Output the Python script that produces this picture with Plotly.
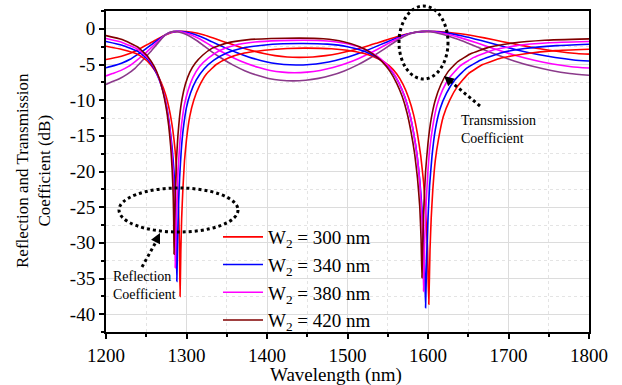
import plotly.graph_objects as go

# ---------------- data ----------------
labels = ["W<sub>2</sub> = 300 nm", "W<sub>2</sub> = 340 nm",
          "W<sub>2</sub> = 380 nm", "W<sub>2</sub> = 420 nm"]

# Reflection coefficients (dB)
r300_x = [1200, 1220, 1240, 1252, 1261, 1268, 1274, 1279, 1283, 1286, 1288.5, 1290.2, 1291.2, 1292,
          1293, 1294, 1295.5, 1297.5, 1300, 1304, 1309, 1316, 1325, 1337, 1352, 1372, 1397, 1425, 1450,
          1480, 1505, 1525, 1540, 1552, 1561, 1569, 1576, 1582, 1587, 1591, 1594.5, 1597, 1599.2, 1601,
          1602.5, 1604, 1606, 1609, 1613, 1619, 1627, 1637, 1650, 1668, 1691, 1721, 1758, 1800]
r300_y = [-2.45, -2.9, -3.6, -4.6, -5.9, -7.4, -9.2, -11.5, -14.2, -17.2, -21, -25.5, -30, -37.5,
          -31, -26.5, -22.5, -18.5, -15.5, -12.3, -10, -8, -6.3, -5.0, -4.1, -3.4, -3.0, -2.75, -2.7,
          -2.8, -3.1, -3.6, -4.3, -5.2, -6.3, -7.8, -9.7, -12, -14.8, -17.8, -21.5, -25.5, -30.5, -38.6,
          -31, -26.5, -22.5, -18.5, -15.5, -12.3, -10, -8, -6.3, -5.0, -4.1, -3.5, -3.05, -2.86]

r340_x = [1200, 1220, 1240, 1252, 1260, 1266, 1271, 1275.5, 1279, 1282, 1284.5, 1286.2, 1287.2, 1288,
          1289, 1290, 1291.5, 1293.5, 1296, 1300, 1305, 1312, 1322, 1334, 1350, 1370, 1395, 1420, 1445,
          1475, 1500, 1520, 1535, 1547, 1556, 1564, 1571, 1577, 1582, 1586.5, 1590, 1593, 1595.3, 1597,
          1598.5, 1600, 1602, 1605, 1609, 1615, 1623, 1633, 1647, 1665, 1690, 1720, 1760, 1800]
r340_y = [-1.78, -2.3, -3.2, -4.3, -5.6, -7.1, -8.8, -11, -13.5, -16.5, -20, -24.5, -29, -35.4,
          -29.5, -25, -20.8, -17, -14, -11, -9, -7.2, -5.6, -4.4, -3.4, -2.7, -2.3, -2.1, -2.05,
          -2.15, -2.5, -3.1, -3.9, -4.9, -6.1, -7.6, -9.5, -11.8, -14.5, -17.8, -21.5, -26, -31, -39.1,
          -31.5, -26.5, -22, -17.8, -14.2, -11.2, -9, -7.2, -5.6, -4.4, -3.4, -2.75, -2.35, -2.16]

r380_x = [1200, 1220, 1240, 1252, 1260, 1266, 1271, 1275, 1278.5, 1281, 1283.2, 1284.7, 1285.5, 1286,
          1287, 1288, 1289.5, 1291.5, 1294, 1297.5, 1302, 1308, 1316, 1327, 1342, 1360, 1385, 1415, 1445,
          1475, 1500, 1520, 1535, 1547, 1556, 1564, 1571, 1577, 1582, 1586.5, 1589.8, 1592.2, 1593.6, 1594.5,
          1595.8, 1597.3, 1599.3, 1602, 1606, 1611, 1618, 1627, 1640, 1657, 1680, 1710, 1750, 1800]
r380_y = [-1.36, -1.9, -2.9, -4.1, -5.4, -7.0, -8.8, -10.9, -13.4, -16.2, -19.8, -24, -28, -33.5,
          -28, -24, -20, -16.3, -13.3, -10.6, -8.6, -6.8, -5.3, -4.1, -3.0, -2.3, -1.85, -1.65, -1.6,
          -1.7, -2.1, -2.8, -3.7, -4.8, -6.0, -7.6, -9.5, -11.8, -14.5, -17.8, -21.5, -26, -30.5, -36.8,
          -30, -25.5, -21, -17, -13.6, -10.8, -8.6, -6.8, -5.2, -4.0, -3.0, -2.35, -1.95, -1.78]

r420_x = [1200, 1220, 1240, 1252, 1260, 1266, 1270.5, 1274.5, 1277.8, 1280.3, 1282.2, 1283.5, 1284.1, 1284.5,
          1285.3, 1286.2, 1287.5, 1289.3, 1291.5, 1294.5, 1298.5, 1304, 1311, 1320, 1332, 1350, 1375, 1405, 1440,
          1470, 1495, 1515, 1530, 1543, 1553, 1561, 1568, 1574, 1579, 1583.5, 1587, 1589.8, 1591.4, 1592.5,
          1593.7, 1595, 1597, 1600, 1604, 1609, 1616, 1625, 1637, 1653, 1675, 1705, 1745, 1800]
r420_y = [-0.95, -1.5, -2.6, -3.9, -5.3, -6.9, -8.7, -10.9, -13.5, -16.4, -19.8, -23.5, -27, -31.6,
          -26.5, -22.5, -18.5, -15, -12.2, -9.8, -7.8, -6.1, -4.8, -3.7, -2.7, -2.0, -1.55, -1.35, -1.3,
          -1.4, -1.8, -2.5, -3.4, -4.6, -6.0, -7.6, -9.5, -11.8, -14.5, -17.6, -21, -25, -29.5, -34.9,
          -29, -24.5, -20, -16, -12.6, -10, -7.8, -6.0, -4.6, -3.5, -2.6, -2.0, -1.6, -1.41]

# Transmission coefficients (dB)
t300_x = [1200, 1214, 1224, 1234, 1243, 1253, 1263, 1273, 1282, 1292, 1307, 1322, 1336, 1351, 1366,
          1381, 1396, 1410, 1425, 1440, 1457, 1473, 1489, 1505, 1521, 1537, 1553, 1569, 1585, 1601,
          1624, 1647, 1670, 1693, 1716, 1739, 1762, 1785, 1800]
t300_y = [-4.30, -3.99, -3.68, -3.25, -2.72, -2.11, -1.49, -0.91, -0.50, -0.35, -0.49, -0.87, -1.40, -1.98, -2.55,
          -3.05, -3.46, -3.76, -3.95, -4.00, -3.95, -3.76, -3.46, -3.05, -2.55, -1.98, -1.40, -0.87, -0.49, -0.35,
          -0.47, -0.80, -1.27, -1.80, -2.32, -2.79, -3.17, -3.45, -3.55]

t340_x = [1200, 1210, 1220, 1230, 1239, 1249, 1259, 1269, 1278, 1288, 1303, 1318, 1332, 1347, 1362,
          1377, 1392, 1406, 1421, 1436, 1453, 1469, 1485, 1501, 1517, 1533, 1549, 1565, 1581, 1597,
          1620, 1643, 1666, 1689, 1712, 1735, 1758, 1781, 1800]
t340_y = [-5.45, -5.16, -4.79, -4.27, -3.61, -2.84, -2.00, -1.19, -0.58, -0.35, -0.55, -1.10, -1.83, -2.60, -3.32,
          -3.94, -4.43, -4.79, -5.00, -5.07, -5.00, -4.79, -4.43, -3.94, -3.32, -2.60, -1.83, -1.10, -0.55, -0.35,
          -0.53, -1.00, -1.64, -2.34, -3.00, -3.57, -4.03, -4.36, -4.50]

t380_x = [1200, 1208, 1218, 1228, 1237, 1247, 1257, 1267, 1276, 1286, 1301, 1316, 1330, 1345, 1360,
          1375, 1390, 1404, 1419, 1434, 1450, 1466, 1482, 1498, 1514, 1530, 1546, 1562, 1578, 1594,
          1617, 1640, 1663, 1686, 1709, 1732, 1755, 1778, 1800]
t380_y = [-6.60, -6.27, -5.86, -5.27, -4.52, -3.60, -2.56, -1.51, -0.68, -0.35, -0.64, -1.38, -2.33, -3.29, -4.15,
          -4.87, -5.43, -5.83, -6.07, -6.15, -6.07, -5.83, -5.43, -4.87, -4.15, -3.29, -2.33, -1.38, -0.64, -0.35,
          -0.59, -1.23, -2.07, -2.94, -3.74, -4.41, -4.93, -5.31, -5.50]

t420_x = [1200, 1206, 1216, 1226, 1236, 1245, 1255, 1265, 1274, 1284, 1299, 1314, 1328, 1343, 1358,
          1373, 1388, 1402, 1417, 1432, 1448, 1464, 1480, 1496, 1512, 1528, 1544, 1560, 1576, 1592,
          1615, 1638, 1661, 1684, 1707, 1730, 1753, 1776, 1800]
t420_y = [-7.80, -7.48, -7.03, -6.38, -5.53, -4.48, -3.25, -1.93, -0.81, -0.35, -0.75, -1.74, -2.94, -4.09, -5.09,
          -5.90, -6.52, -6.95, -7.21, -7.30, -7.21, -6.95, -6.52, -5.90, -5.09, -4.09, -2.94, -1.74, -0.75, -0.35,
          -0.68, -1.51, -2.55, -3.58, -4.50, -5.26, -5.84, -6.25, -6.50]

x_ticks = [1200, 1300, 1400, 1500, 1600, 1700, 1800]
y_ticks = [0, -5, -10, -15, -20, -25, -30, -35, -40]

# ---------------- styling ----------------
FONT = "Liberation Serif"
r_colors = ["#ff0000", "#0000ff", "#ff00ff", "#800000"]
t_colors = ["#ff0000", "#0000ff", "#ff00ff", "#8b3a8b"]

fig = go.Figure()
refl = [(r300_x, r300_y), (r340_x, r340_y), (r380_x, r380_y), (r420_x, r420_y)]
trans = [(t300_x, t300_y), (t340_x, t340_y), (t380_x, t380_y), (t420_x, t420_y)]

for i, (tx, ty) in enumerate(trans):
    fig.add_trace(go.Scatter(x=tx, y=ty, mode="lines", showlegend=False,
                             line=dict(color=t_colors[i], width=1.6, shape="spline", smoothing=0.6)))
for i, (rx, ry) in enumerate(refl):
    fig.add_trace(go.Scatter(x=rx, y=ry, mode="lines", name=labels[i],
                             line=dict(color=r_colors[i], width=1.6, shape="spline", smoothing=0.4)))

W, H = 622, 385
L, R, T, B = 106, 33, 11, 53
pw, ph = W - L - R, H - T - B


def px(xp):
    return (xp - L) / pw


def py(yp):
    return (H - B - yp) / ph


axis_common = dict(showline=True, linecolor="black", linewidth=2, mirror=True,
                   ticks="outside", ticklen=5, tickwidth=1.5, tickcolor="black",
                   showgrid=True, gridcolor="#dcdcdc", gridwidth=1, zeroline=False,
                   tickfont=dict(family=FONT, size=19, color="black"))

fig.update_layout(
    width=W, height=H,
    margin=dict(l=L, r=R, t=T, b=B, autoexpand=False),
    paper_bgcolor="white", plot_bgcolor="white",
    font=dict(family=FONT, color="black"),
    xaxis=dict(range=[1200, 1800], tickvals=x_ticks, ticktext=[str(v) for v in x_ticks],
               minor=dict(dtick=50, ticks="outside", ticklen=3, tickcolor="black",
                          showgrid=True, gridcolor="#e4e4e4", griddash="dot"),
               **axis_common),
    yaxis=dict(range=[-42.5, 2.5], tickvals=y_ticks, ticktext=[str(v) for v in y_ticks],
               minor=dict(dtick=2.5, ticks="outside", ticklen=3, tickcolor="black",
                          showgrid=True, gridcolor="#e4e4e4", griddash="dot"),
               **axis_common),
    legend=dict(x=px(218), y=py(218), xanchor="left", yanchor="top",
                bgcolor="rgba(0,0,0,0)", font=dict(family=FONT, size=19, color="black"),
                tracegroupgap=0, itemwidth=40),
)

# axis titles
fig.add_annotation(text="Wavelength (nm)", xref="paper", yref="paper", x=px(336), y=py(375),
                   showarrow=False, font=dict(family=FONT, size=19, color="black"),
                   xanchor="center", yanchor="middle")
fig.add_annotation(text="Reflection and Transmission<br>Coefficient (dB)", xref="paper", yref="paper",
                   x=px(33), y=py(171), textangle=-90, showarrow=False,
                   font=dict(family=FONT, size=17, color="black"), xanchor="center", yanchor="middle")

# dotted ellipses
fig.add_shape(type="circle", xref="paper", yref="paper", x0=px(399), x1=px(448), y0=py(79), y1=py(6),
              line=dict(color="black", width=3, dash="dot"))
fig.add_shape(type="circle", xref="paper", yref="paper", x0=px(119), x1=px(238), y0=py(232), y1=py(188),
              line=dict(color="black", width=3, dash="dot"))

# dotted arrows
fig.add_shape(type="line", xref="paper", yref="paper", x0=px(480), y0=py(106), x1=px(450), y1=py(81),
              line=dict(color="black", width=3, dash="dot"))
fig.add_annotation(x=px(444), y=py(76), xref="paper", yref="paper", ax=8, ay=7,
                   showarrow=True, arrowhead=2, arrowsize=1, arrowwidth=2, arrowcolor="black", text="")
fig.add_shape(type="line", xref="paper", yref="paper", x0=px(142), y0=py(267), x1=px(157), y1=py(240),
              line=dict(color="black", width=3, dash="dot"))
fig.add_annotation(x=px(160), y=py(233), xref="paper", yref="paper", ax=-4, ay=8,
                   showarrow=True, arrowhead=2, arrowsize=1, arrowwidth=2, arrowcolor="black", text="")

# annotation texts
fig.add_annotation(text="Transmission<br>Coefficient", xref="paper", yref="paper", x=px(459), y=py(129),
                   showarrow=False, align="left", xanchor="left", yanchor="middle",
                   font=dict(family=FONT, size=14, color="black"))
fig.add_annotation(text="Reflection<br>Coefficient", xref="paper", yref="paper", x=px(111), y=py(285),
                   showarrow=False, align="left", xanchor="left", yanchor="middle",
                   font=dict(family=FONT, size=14, color="black"))

fig.write_html("out.html")
